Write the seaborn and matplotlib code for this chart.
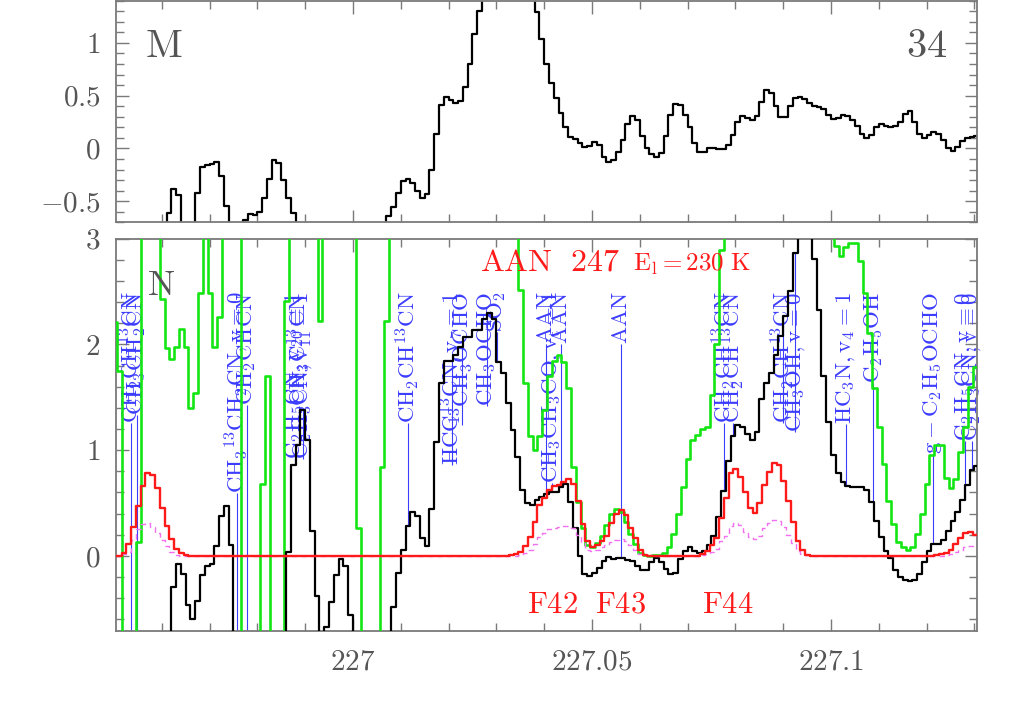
import numpy as np
import matplotlib
matplotlib.use("Agg")
import matplotlib.pyplot as plt
from matplotlib.ticker import MultipleLocator, FuncFormatter
import seaborn as sns

sns.set_style("ticks")
plt.rcParams["font.family"] = ["cmr10", "DejaVu Serif"]
plt.rcParams["mathtext.fontset"] = "cm"
plt.rcParams["axes.unicode_minus"] = False

# channel centres (GHz): observed spectra and model/green spectra sit half a channel apart
f_obs = np.round(226.9505 + 0.001 * np.arange(181), 4)
f_mod = np.round(226.9501 + 0.001 * np.arange(182), 4)

# upper panel "M" (observed, black)
spec_m = [
    -1, -1, -1, -1, -1, -1, -1, -1, -1, -1,
    -1, -0.61, -0.38, -0.44, -1, -1, -1, -0.42, -0.18, -0.16,
    -0.15, -0.13, -0.26, -0.55, -1, -1, -1, -0.68, -0.62, -0.63,
    -0.60, -0.47, -0.29, -0.11, -0.14, -0.30, -0.47, -0.61, -1, -1,
    -1, -1, -1, -1, -1, -1, -1, -1, -1, -1,
    -1, -1, -1, -1, -1, -1, -1, -0.64, -0.56, -0.42,
    -0.31, -0.29, -0.33, -0.40, -0.47, -0.43, -0.20, 0.14, 0.41, 0.49,
    0.46, 0.43, 0.45, 0.58, 0.80, 1.08, 1.30, 1.5, 1.7, 1.9,
    2.0, 2.1, 2.1, 2.0, 1.9, 1.8, 1.6, 1.5, 1.29, 1.04,
    0.80, 0.62, 0.48, 0.34, 0.20, 0.11, 0.09, 0.05, 0.01, 0.02,
    0.06, 0.03, -0.08, -0.13, -0.11, -0.03, 0.08, 0.23, 0.31, 0.27,
    0.12, 0.00, -0.05, -0.08, -0.04, 0.12, 0.32, 0.42, 0.41, 0.32,
    0.20, 0.05, -0.03, -0.03, 0.00, 0.00, -0.01, -0.01, 0.03, 0.13,
    0.25, 0.31, 0.29, 0.27, 0.31, 0.44, 0.55, 0.53, 0.40, 0.30,
    0.30, 0.40, 0.48, 0.49, 0.47, 0.43, 0.40, 0.39, 0.37, 0.32,
    0.28, 0.29, 0.32, 0.31, 0.27, 0.21, 0.14, 0.10, 0.13, 0.20,
    0.23, 0.21, 0.20, 0.21, 0.25, 0.33, 0.35, 0.25, 0.14, 0.10,
    0.13, 0.16, 0.14, 0.08, 0.00, -0.02, 0.01, 0.07, 0.10, 0.11,
    0.12,
]

# lower panel "N" (observed, black)
spec_n = [
    -1, -1, -1, -1, -1, -1, -1, -1, -1, -1,
    -1, -1, -0.29, -0.08, -0.17, -0.46, -0.60, -0.43, -0.18, -0.10,
    -0.08, 0.09, 0.38, 0.47, 0.10, -1, -1, -1, -1, -1,
    -1, -1, -1, -1, -1, -1, 0.04, 0.86, 1.05, 1.38,
    1.10, 0.24, -0.38, -1, -0.67, -0.44, -0.18, -0.03, -0.10, -0.56,
    -1, -1, -1, -1, -1, -1, -1, -1, -0.48, -0.16,
    0.06, 0.28, 0.42, 0.38, 0.17, 0.09, 0.44, 1.08, 1.64, 1.84,
    1.84, 1.90, 1.98, 2.07, 2.07, 2.14, 2.14, 2.24, 2.30, 2.24,
    1.83, 1.73, 1.45, 1.19, 0.94, 0.62, 0.50, 0.48, 0.53, 0.56,
    0.59, 0.60, 0.60, 0.65, 0.68, 0.51, 0.26, 0.00, -0.17, -0.19,
    -0.16, -0.11, -0.05, -0.01, -0.03, -0.02, -0.02, -0.04, -0.05, -0.10,
    -0.13, -0.13, -0.06, -0.02, -0.06, -0.12, -0.17, -0.16, -0.03, 0.05,
    0.08, 0.05, 0.03, 0.05, 0.10, 0.19, 0.37, 0.61, 0.90, 1.13,
    1.24, 1.22, 1.15, 1.10, 1.17, 1.48, 1.64, 1.73, 1.90, 2.08,
    2.27, 2.51, 2.87, 3.2, 3.3, 3.2, 2.81, 2.33, 1.70, 1.27,
    0.95, 0.78, 0.70, 0.66, 0.65, 0.65, 0.65, 0.62, 0.51, 0.33,
    0.18, 0.05, -0.02, -0.13, -0.20, -0.23, -0.24, -0.23, -0.17, -0.06,
    0.05, 0.11, 0.11, 0.15, 0.24, 0.33, 0.42, 0.53, 0.67, 0.81,
    0.85,
]

# green spectrum (lower panel)
spec_green = (
    [2.21, 1.75, -1, -1, -1, 0.13, 3.5, 3.5, 3.5, 3.5,
     2.43, 1.97, 1.86, 1.98, 2.15, 1.98, 1.40, 1.54, 2.49, 3.5,
     2.49, 1.98, 2.26, 3.5, 3.5, 3.5, 3.5, -1, -1, -1,
     -1, 0.68, 1.70, -1, -1, -1, 2.41, 3.5, 3.5, 3.5,
     3.5, 3.5, 3.5, 2.22, 3.5, 3.5, 3.5, 3.5, 3.5, 3.5,
     3.5, 0.26, -1, -1, -1, -1, 0.84, 2.22]
    + [3.5] * 27
    + [2.52, 1.64, 1.13, 1.00, 1.13, 1.38, 1.70, 1.84, 1.90, 1.83,
       1.59, 0.84, 0.51, 0.26, 0.10, 0.08, 0.12, 0.19, 0.29, 0.40,
       0.44, 0.42, 0.32, 0.21, 0.11, 0.03, 0.01, 0.00, 0.01, 0.01,
       0.03, 0.08, 0.21, 0.40, 0.65, 0.92, 1.10, 1.14, 1.20, 1.22,
       1.52, 2.0, 2.89]
    + [3.5] * 23
    + [2.93, 2.84, 2.92, 2.96, 2.96, 2.79, 2.49, 2.11, 1.59, 1.22,
       0.87, 0.52, 0.30, 0.13, 0.08, 0.06, 0.08, 0.21, 0.40, 0.68,
       0.95, 1.05, 1.05, 0.74, 0.64, 0.73, 0.98, 1.22, 1.60, 1.79,
       1.79]
)

# AAN model (red) and its second component (magenta, dashed)
model_red = (
    [0.0, 0.0, 0.03, 0.11, 0.27, 0.47, 0.66, 0.78, 0.77, 0.64,
     0.45, 0.28, 0.16, 0.07, 0.03, 0.01]
    + [0.0] * 67
    + [0.01, 0.02, 0.04, 0.09, 0.18, 0.32, 0.48, 0.55, 0.62, 0.66,
       0.67, 0.70, 0.73, 0.68, 0.52, 0.30, 0.14, 0.08, 0.10, 0.14,
       0.19, 0.31, 0.40, 0.43, 0.39, 0.26, 0.17, 0.06, 0.01]
    + [0.0] * 11
    + [0.02, 0.05, 0.10, 0.17, 0.36, 0.55, 0.78, 0.82, 0.75, 0.60,
       0.45, 0.41, 0.50, 0.67, 0.79, 0.88, 0.86, 0.71, 0.52, 0.32,
       0.14, 0.06, 0.01]
    + [0.0] * 26
    + [0.01, 0.02, 0.03, 0.06, 0.11, 0.17, 0.22, 0.23, 0.20, 0.20]
)
model_mag = (
    [0.0, 0.0, 0.02, 0.04, 0.15, 0.25, 0.30, 0.31, 0.27, 0.22,
     0.15, 0.09, 0.04, 0.01]
    + [0.0] * 71
    + [0.01, 0.03, 0.06, 0.11, 0.18, 0.22, 0.25, 0.26, 0.27, 0.28,
       0.28, 0.26, 0.20, 0.12, 0.06, 0.05, 0.06, 0.08, 0.10, 0.13,
       0.15, 0.16, 0.14, 0.10, 0.06, 0.02, 0.01]
    + [0.0] * 11
    + [0.01, 0.02, 0.04, 0.07, 0.14, 0.19, 0.28, 0.31, 0.29, 0.23,
       0.18, 0.16, 0.19, 0.26, 0.31, 0.34, 0.33, 0.27, 0.20, 0.12,
       0.05, 0.02, 0.01]
    + [0.0] * 28
    + [0.01, 0.02, 0.04, 0.06, 0.08, 0.09, 0.08, 0.08]
)

# line identifications
lab_freq = [226.9536, 226.9548, 226.9757, 226.9778, 226.9879, 226.9887, 226.9895,
            227.0115, 227.0207, 227.0228, 227.0280, 227.0301, 227.0404, 227.0416,
            227.0435, 227.0561, 227.0776, 227.0795, 227.0900, 227.0925, 227.1031,
            227.1088, 227.1213, 227.1280, 227.1295]
lab_text = [
    r"$\mathrm{CH_2CH^{13}CN}$", r"$\mathrm{CH_3CH_2CN}$",
    r"$\mathrm{CH_3{}^{13}CH_2CN,v{=}0}$", r"$\mathrm{CH_2CHCN}$",
    r"$\mathrm{C_2H_5CN,v_{20}{=}1}$", r"$\mathrm{CH_3C^{13}CN}$",
    r"$\mathrm{C_2H_3CN,v_{11}{=}1}$", r"$\mathrm{CH_2CH^{13}CN}$",
    r"$\mathrm{HCC^{13}CN,v_7{=}1}$", r"$\mathrm{{}^{13}CH_3OCHO}$",
    r"$\mathrm{CH_3OCHO}$", r"$\mathrm{SO_2}$",
    r"$\mathrm{AAN}$", r"$\mathrm{CH_3CH_3CO,v_t{=}1}$", r"$\mathrm{AAN}$",
    r"$\mathrm{AAN}$", r"$\mathrm{CH_2CH^{13}CN}$", r"$\mathrm{CH_2CH^{13}CN}$",
    r"$\mathrm{CH_2CH^{13}CN}$", r"$\mathrm{CH_3OH,v{=}0}$",
    r"$\mathrm{HC_3N,v_4{=}1}$", r"$\mathrm{C_2H_5OH}$",
    r"$\mathrm{g-C_2H_5OCHO}$", r"$\mathrm{C_2H_5CN,v{=}0}$",
    r"$\mathrm{C_2H_3CN,v{=}0}$",
]
lab_top = 2.50

xlim = (226.9504, 227.1305)
gray = "#7a7a7a"
blue = "#3c3cff"

fig = plt.figure(figsize=(10.25, 7.17), dpi=100)
ax1 = fig.add_axes([0.113, 0.690, 0.840, 0.309])
ax2 = fig.add_axes([0.113, 0.120, 0.840, 0.547])

sns.lineplot(x=f_obs, y=spec_m, ax=ax1, color="black", lw=1.6,
             drawstyle="steps-mid", estimator=None, sort=False, legend=False)

sns.lineplot(x=f_mod, y=spec_green, ax=ax2, color="#14e614", lw=1.9,
             drawstyle="steps-mid", estimator=None, sort=False, legend=False, zorder=3)
sns.lineplot(x=f_obs, y=spec_n, ax=ax2, color="black", lw=1.6,
             drawstyle="steps-mid", estimator=None, sort=False, legend=False, zorder=4)
sns.lineplot(x=f_mod, y=model_mag, ax=ax2, color="#f070f0", lw=1.0,
             linestyle=(0, (4, 3)), drawstyle="steps-mid", estimator=None,
             sort=False, legend=False, zorder=5)
sns.lineplot(x=f_mod, y=model_red, ax=ax2, color="#ff1a1a", lw=1.7,
             drawstyle="steps-mid", estimator=None, sort=False, legend=False, zorder=6)

fmt = FuncFormatter(lambda v, p: f"${v:g}$")
for ax in (ax1, ax2):
    ax.set_xlim(*xlim)
    ax.xaxis.set_major_locator(MultipleLocator(0.05))
    ax.xaxis.set_minor_locator(MultipleLocator(0.01))
    ax.xaxis.set_major_formatter(fmt)
    ax.yaxis.set_major_formatter(fmt)
    ax.tick_params(which="both", direction="in", top=True, right=True,
                   color=gray, labelcolor="#555555", labelsize=21, width=1.0)
    ax.tick_params(which="major", length=9)
    ax.tick_params(which="minor", length=6)
    ax.tick_params(axis="x", pad=13)
    ax.tick_params(axis="y", pad=11)
    for s in ax.spines.values():
        s.set_color(gray)
        s.set_linewidth(1.3)
    ax.set_xlabel("")
    ax.set_ylabel("")

ax1.set_ylim(-0.70, 1.40)
ax1.yaxis.set_major_locator(MultipleLocator(0.5))
ax1.yaxis.set_minor_locator(MultipleLocator(0.1))
ax1.tick_params(labelbottom=False)

ax2.set_ylim(-0.71, 3.0)
ax2.yaxis.set_major_locator(MultipleLocator(1))
ax2.yaxis.set_minor_locator(MultipleLocator(0.2))

ax1.text(0.034, 0.79, r"$\mathrm{M}$", transform=ax1.transAxes, fontsize=29,
         color="#555555", ha="left", va="center")
ax1.text(0.966, 0.79, r"$\mathrm{34}$", transform=ax1.transAxes, fontsize=29,
         color="#555555", ha="right", va="center")
ax2.text(0.036, 0.879, r"$\mathrm{N}$", transform=ax2.transAxes, fontsize=26,
         color="#555555", ha="left", va="center")

ax2.text(227.0266, 2.70, r"$\mathrm{AAN\ \ 247}$", color="#ff1a1a", fontsize=23,
         ha="left", va="baseline", zorder=7)
ax2.text(227.0586, 2.70, r"$\mathrm{E_l{=}230\ K}$", color="#ff1a1a", fontsize=18,
         ha="left", va="baseline", zorder=7)
ax2.text(227.0365, -0.54, r"$\mathrm{F42}$", color="#ff1a1a", fontsize=22,
         ha="left", va="baseline", zorder=7)
ax2.text(227.0507, -0.54, r"$\mathrm{F43}$", color="#ff1a1a", fontsize=22,
         ha="left", va="baseline", zorder=7)
ax2.text(227.0730, -0.54, r"$\mathrm{F44}$", color="#ff1a1a", fontsize=22,
         ha="left", va="baseline", zorder=7)

# labels hang from a common top; the tick line runs from the spectrum up to the label
texts = []
for f, t in zip(lab_freq, lab_text):
    texts.append(ax2.text(f, lab_top, t, rotation=90, ha="center", va="top",
                          color=blue, fontsize=16.5, zorder=2))
fig.canvas.draw()
rend = fig.canvas.get_renderer()
inv = ax2.transData.inverted()
for f, t in zip(lab_freq, texts):
    bb = t.get_window_extent(rend)
    y_bot = inv.transform((bb.x0, bb.y0))[1]
    i = int(np.argmin(np.abs(f_obs - f)))
    ax2.vlines(f, spec_n[i], y_bot, color=blue, lw=0.8, zorder=2)

fig.savefig("out.png", dpi=100)
